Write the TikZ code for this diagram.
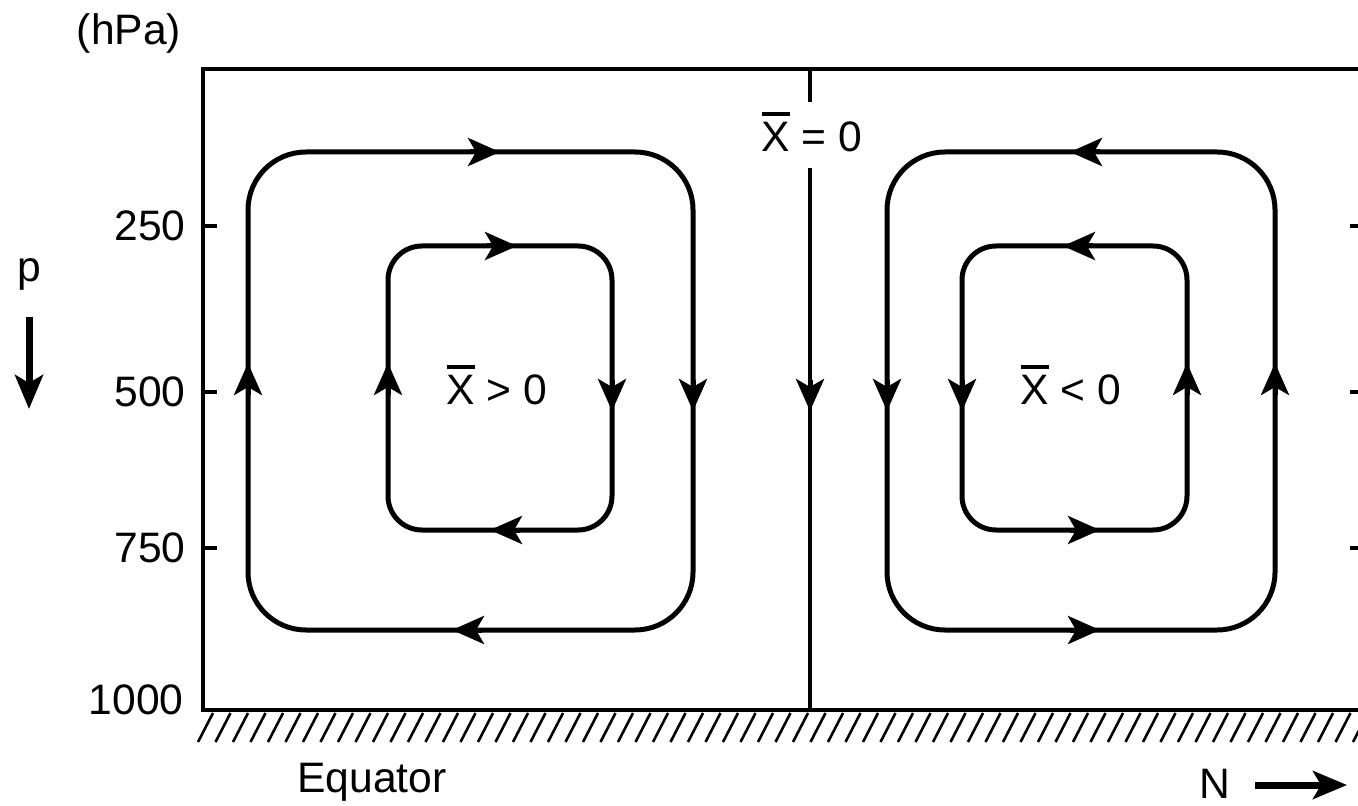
\documentclass[tikz,border=0pt]{standalone}
\usepackage{fontspec}
\setmainfont{Liberation Sans}
\usetikzlibrary{arrows.meta}

\newcommand\barX{\setbox0\hbox{X}\rlap{\rule[\dimexpr\ht0+3.5pt\relax]{\wd0}{2pt}}X}

\tikzset{
  frame/.style={line width=2pt},
  flow/.style={line width=2.5pt},
  tip/.style={line width=2.5pt, -{Stealth[length=16pt,width=14pt,inset=4pt]}},
  bigtip/.style={line width=3.5pt, -{Stealth[length=17pt,width=14pt,inset=4pt]}},
  lbl/.style={font=\fontsize{21.3}{25}\selectfont, inner sep=0pt},
}

\begin{document}
\begin{tikzpicture}[x=0.5pt,y=-0.5pt]
  \useasboundingbox (0,0) rectangle (1358,806);
  % frame and ground
  \draw[frame] (1358,69) -- (203,69) -- (203,710) -- (1358,710);
  \begin{scope}
    \clip (190,711) rectangle (1358,750);
    \foreach \x in {198,215.5,...,1370}
      \draw[line width=1.3pt] (\x,742) -- (\x+15,713);
  \end{scope}
  % pressure axis
  \foreach \y/\p in {226/250,392/500,548/750} {
    \draw[frame] (203,\y) -- (217,\y);
    \draw[frame] (1350,\y) -- (1358,\y);
    \node[lbl, anchor=east] (lev\p) at (186,\y) {\p};
  }
  \node[lbl, anchor=east] (lev1000) at (184,700) {1000};
  \node[lbl] (unit) at (129,33) {(hPa)};
  \node[lbl, anchor=base] (pvar) at (29,282) {p};
  \draw[bigtip] (29,317) -- (29,409);
  % equator line
  \node[lbl, anchor=base] (xzero) at (812,152) {\barX{} = 0};
  \draw[frame] (810,69) -- (810,102);
  \draw[frame] (810,168) -- (810,710);
  \draw[tip] (810,380) -- (810,411);
  % cell with X > 0
  \draw[flow, rounded corners=29pt] (248,152) rectangle (693,630);
  \draw[flow, rounded corners=17pt] (388,246) rectangle (612,530);
  \draw[tip] (470,152) -- (500,152);
  \draw[tip] (693,380) -- (693,411);
  \draw[tip] (482,630) -- (452,630);
  \draw[tip] (248,395) -- (248,363);
  \draw[tip] (487,246) -- (517,246);
  \draw[tip] (612,380) -- (612,411);
  \draw[tip] (520,530) -- (490,530);
  \draw[tip] (388,395) -- (388,363);
  \node[lbl, anchor=base] (xpos) at (497,405) {\barX{} > 0};
  % cell with X < 0
  \draw[flow, rounded corners=29pt] (887,152) rectangle (1275,630);
  \draw[flow, rounded corners=17pt] (962,246) rectangle (1187,530);
  \draw[tip] (1100,152) -- (1070,152);
  \draw[tip] (887,380) -- (887,411);
  \draw[tip] (1070,630) -- (1100,630);
  \draw[tip] (1275,395) -- (1275,363);
  \draw[tip] (1093,246) -- (1063,246);
  \draw[tip] (962,380) -- (962,411);
  \draw[tip] (1070,530) -- (1100,530);
  \draw[tip] (1187,395) -- (1187,363);
  \node[lbl, anchor=base] (xneg) at (1071,405) {\barX{} < 0};
  % bottom labels
  \node[lbl, anchor=base] (equator) at (372,792) {Equator};
  \node[lbl, anchor=base] (north) at (1215,798) {N};
  \draw[bigtip] (1255,785) -- (1347,785);
\end{tikzpicture}
\end{document}
